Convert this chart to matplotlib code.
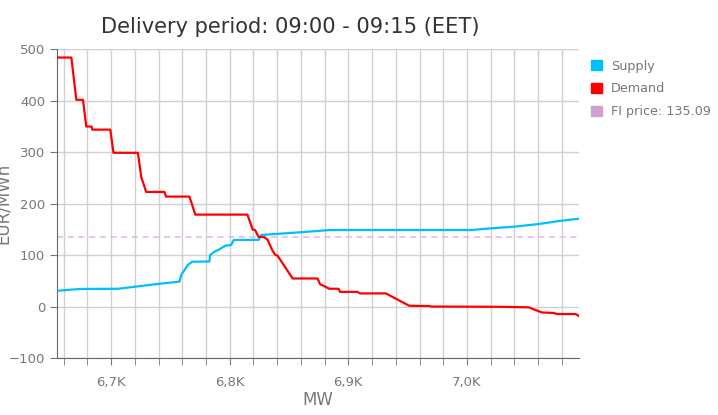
import matplotlib.pyplot as plt
from matplotlib.patches import Patch
from matplotlib.ticker import FuncFormatter, MultipleLocator

# Supply curve (MW, EUR/MWh)
supply_mw = [6654.4, 6673.5, 6705.7, 6738.0, 6757.7, 6759.1, 6761.9, 6764.6, 6768.4,
             6782.9, 6783.5, 6787.1, 6791.3, 6796.4, 6801.2, 6803.4, 6824.4, 6826.4,
             6858.7, 6883.9, 7003.2, 7020.0, 7039.6, 7060.7, 7077.5, 7094.4]
supply_price = [31, 34.6, 35, 44, 49, 62, 71.5, 81, 87.6,
                88, 100.6, 107, 111.6, 118.6, 120, 129.7, 130, 139.4,
                144.6, 149, 149, 152.4, 155.5, 160.8, 166.6, 171]

# Demand curve (MW, EUR/MWh)
demand_mw = [6654.4, 6666.5, 6670.7, 6676.3, 6679.1, 6683.6, 6684.2, 6699.3, 6702.0,
             6722.6, 6725.4, 6729.6, 6745.0, 6746.3, 6766.0, 6771.0, 6814.9, 6819.4,
             6821.4, 6824.2, 6829.2, 6832.0, 6835.4, 6838.2, 6840.4, 6853.0, 6874.0,
             6876.1, 6879.7, 6883.9, 6891.7, 6892.9, 6907.7, 6909.8, 6931.6, 6951.3,
             6968.0, 6970.0, 7027.0, 7052.0, 7057.4, 7063.3, 7073.3, 7075.8, 7091.5, 7094.4]
demand_price = [484, 484, 402, 402, 350, 350, 344, 344, 299,
                299, 252, 223, 223, 214, 214, 179, 179, 150,
                149, 136, 135, 130, 112, 101, 99, 55, 55,
                44, 40, 35, 35, 29, 29, 26, 26, 2,
                1.5, 0.5, 0, -1, -6, -11, -12, -14, -14, -18]

fi_price = 135.09

fig = plt.figure(figsize=(7.18, 4.15), dpi=100)
ax = fig.add_axes([57 / 718, 1 - 358.3 / 415, (579 - 57) / 718, (358.3 - 49.3) / 415])

ax.plot(supply_mw, supply_price, color='#00bfff', lw=1.6, zorder=3)
ax.plot(demand_mw, demand_price, color='#ff0000', lw=1.6, zorder=3)
ax.axhline(fi_price, color='#e3b6e8', lw=1.1, ls=(0, (4, 3)), zorder=2)

ax.set_xlim(6654.4, 7094.4)
ax.set_ylim(-100, 500)
ax.yaxis.set_major_locator(MultipleLocator(100))
ax.xaxis.set_major_locator(MultipleLocator(100))
ax.xaxis.set_minor_locator(MultipleLocator(20))
ax.xaxis.set_major_formatter(FuncFormatter(lambda v, p: f"{v / 1000:.1f}K".replace('.', ',')))

ax.grid(True, which='both', axis='x', color='#d0d0d0', lw=1)
ax.grid(True, which='major', axis='y', color='#d0d0d0', lw=1)
ax.set_axisbelow(True)

for s in ['top', 'right']:
    ax.spines[s].set_visible(False)
for s in ['left', 'bottom']:
    ax.spines[s].set_color('#666666')
ax.tick_params(axis='both', which='both', colors='#777777', labelsize=9.5, length=5)
ax.tick_params(axis='x', which='major', pad=8)

fig.text(290 / 718, 1 - 27 / 415, 'Delivery period: 09:00 - 09:15 (EET)',
         ha='center', va='center', fontsize=15.1, color='#333333')
fig.text(318 / 718, 1 - 400 / 415, 'MW', ha='center', va='center', fontsize=12, color='#777777')
fig.text(3 / 718, 1 - 203 / 415, 'EUR/MWh', ha='center', va='center', rotation=90,
         fontsize=12, color='#777777')

handles = [Patch(color='#00bfff'), Patch(color='#ff0000'), Patch(color='#cfa0d0')]
labels = ['Supply', 'Demand', f'FI price: {fi_price:.2f}']
leg = fig.legend(handles, labels, loc='upper left', bbox_to_anchor=(579 / 718, 1 - 48 / 415),
                 frameon=False, handlelength=0.9, handleheight=0.9, handletextpad=0.68,
                 labelspacing=0.78, fontsize=9.2)
for t in leg.get_texts():
    t.set_color('#777777')

fig.savefig('out.png', dpi=100)
